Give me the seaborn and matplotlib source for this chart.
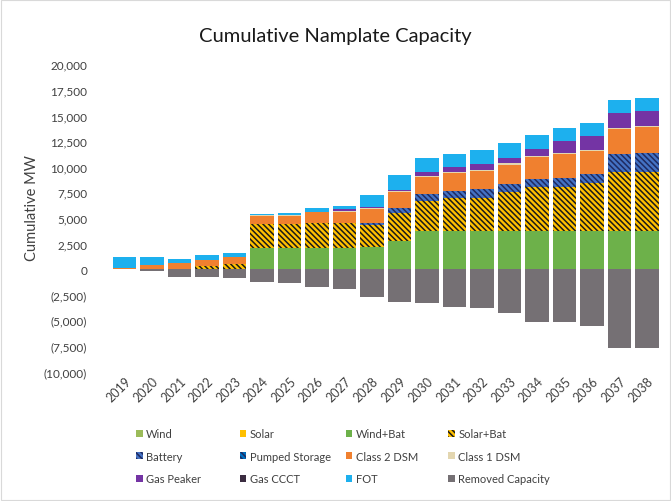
import numpy as np
import matplotlib
matplotlib.use("Agg")
import matplotlib.pyplot as plt
from matplotlib.patches import Patch, Rectangle
from matplotlib.ticker import FuncFormatter
import seaborn as sns

sns.set_theme(style="white")
plt.rcParams['font.family'] = ['Lato', 'DejaVu Sans']
plt.rcParams['hatch.linewidth'] = 1.1

# Years on the x axis
years = ["2019", "2020", "2021", "2022", "2023", "2024", "2025", "2026", "2027", "2028",
         "2029", "2030", "2031", "2032", "2033", "2034", "2035", "2036", "2037", "2038"]

# Cumulative MW by resource
wind = [0, 0, 0, 0, 0, 0, 0, 0, 0, 0, 0, 0, 0, 0, 0, 0, 0, 0, 0, 0]
solar = [0, 0, 0, 0, 0, 0, 0, 0, 0, 0, 0, 0, 0, 0, 0, 0, 0, 0, 0, 0]
wind_bat = [0, 0, 0, 0, 0, 2010, 2010, 2010, 2050, 2110,
            2750, 3750, 3750, 3750, 3750, 3750, 3750, 3750, 3750, 3750]
solar_bat = [0, 0, 0, 260, 490, 2370, 2370, 2530, 2440, 2200,
             2770, 2900, 3220, 3220, 3770, 4300, 4300, 4690, 5720, 5720]
battery = [0, 0, 0, 0, 0, 0, 0, 0, 0, 230,
           480, 650, 650, 810, 750, 770, 800, 800, 1720, 1880]
pumped = [0, 0, 0, 0, 0, 0, 0, 0, 0, 0, 0, 0, 0, 0, 0, 0, 0, 0, 0, 0]
class2_dsm = [150, 390, 560, 640, 650, 820, 820, 990, 1130, 1350,
              1520, 1680, 1750, 1780, 1940, 2100, 2340, 2270, 2500, 2560]
class1_dsm = [0, 0, 0, 0, 0, 50, 50, 50, 50, 50,
              100, 100, 100, 100, 100, 100, 100, 100, 100, 100]
gas_peaker = [0, 0, 0, 0, 0, 0, 0, 0, 230, 130,
              60, 390, 490, 560, 560, 720, 1190, 1360, 1460, 1390]
gas_ccct = [0, 0, 0, 0, 0, 0, 0, 0, 0, 0, 0, 0, 0, 0, 0, 0, 0, 0, 0, 0]
fot = [1000, 750, 430, 460, 420, 170, 270, 420, 250, 1200,
       1460, 1400, 1230, 1390, 1460, 1400, 1310, 1300, 1290, 1300]
removed = [0, -200, -810, -810, -900, -1300, -1360, -1720, -1900, -2680,
           -3180, -3310, -3730, -3830, -4280, -5120, -5190, -5580, -7700, -7700]

# series name, values, face colour, hatch, hatch colour
series = [
    ("Wind", wind, "#9BBB59", None, None),
    ("Solar", solar, "#FFC000", None, None),
    ("Wind+Bat", wind_bat, "#6DB14A", None, None),
    ("Solar+Bat", solar_bat, "#FFC000", "\\\\\\\\\\\\", "#1A1A1A"),
    ("Battery", battery, "#4472C4", "\\\\\\\\\\\\", "#1F2A60"),
    ("Pumped Storage", pumped, "#0070C0", "\\\\\\\\\\\\", "#1F2A60"),
    ("Class 2 DSM", class2_dsm, "#F0802F", None, None),
    ("Class 1 DSM", class1_dsm, "#E3D6B0", None, None),
    ("Gas Peaker", gas_peaker, "#7434A4", None, None),
    ("Gas CCCT", gas_ccct, "#3B2C40", None, None),
    ("FOT", fot, "#1DB0EE", None, None),
]
removed_color = "#757074"

fig = plt.figure(figsize=(6.71, 5.02), dpi=100)
ax = fig.add_axes([0.165, 0.258, 0.820, 0.612])

# stack the positive series: draw the cumulative tops from the top layer down
tops = np.cumsum(np.array([s[1] for s in series]), axis=0)
for i in range(len(series) - 1, -1, -1):
    name, vals, col, hatch, hcol = series[i]
    sns.barplot(x=years, y=tops[i], color=col, saturation=1, width=0.86,
                hatch=hatch, edgecolor=hcol if hatch else col, linewidth=0,
                ax=ax)
sns.barplot(x=years, y=removed, color=removed_color, saturation=1, width=0.86,
            linewidth=0, ax=ax)

ax.set_ylim(-10000, 20000)
ax.set_xlim(-0.5, 19.5)
ax.set_yticks(np.arange(-10000, 20001, 2500))
ax.yaxis.set_major_formatter(FuncFormatter(
    lambda v, p: "0" if v == 0 else (f"({abs(v):,.0f})" if v < 0 else f"{v:,.0f}")))
for s in ax.spines.values():
    s.set_visible(False)
ax.tick_params(axis="y", length=0, pad=17, labelsize=8.5, labelcolor="#404040")
ax.tick_params(axis="x", length=0, pad=2, labelsize=9, labelcolor="#404040")
plt.setp(ax.get_xticklabels(), rotation=45, ha="right", rotation_mode="anchor")
ax.set_xlabel("")
ax.set_ylabel("Cumulative MW", fontsize=10.5, color="#404040")
ax.yaxis.set_label_coords(-0.131, 0.535)

fig.text(0.5, 0.928, "Cumulative Namplate Capacity", ha="center", va="center",
         fontsize=14.5, color="#1A1A1A")

# legend: 3 rows x 4 columns, Excel style order, centred under the chart
handles = {}
for name, vals, col, hatch, hcol in series:
    handles[name] = Patch(facecolor=col, hatch=hatch, edgecolor=hcol if hatch else col,
                          linewidth=0, label=name)
handles["Removed Capacity"] = Patch(facecolor=removed_color, linewidth=0,
                                    label="Removed Capacity")
columns = [["Wind", "Battery", "Gas Peaker"],
           ["Solar", "Pumped Storage", "Gas CCCT"],
           ["Wind+Bat", "Class 2 DSM", "FOT"],
           ["Solar+Bat", "Class 1 DSM", "Removed Capacity"]]
col_x = [0.203, 0.357, 0.515, 0.668]
for cx, names in zip(col_x, columns):
    fig.legend(handles=[handles[n] for n in names], loc="upper left",
               bbox_to_anchor=(cx, 1 - 429 / 502), bbox_transform=fig.transFigure,
               frameon=False, fontsize=8, labelcolor="#404040",
               handlelength=0.6, handleheight=0.6, handletextpad=0.3,
               labelspacing=1.05, borderaxespad=0, borderpad=0)

fig.patches.append(Rectangle((0.001, 0.001), 0.997, 0.997, transform=fig.transFigure,
                             fill=False, edgecolor="#D9D9D9", linewidth=0.8))

fig.savefig("out.png", dpi=100)
